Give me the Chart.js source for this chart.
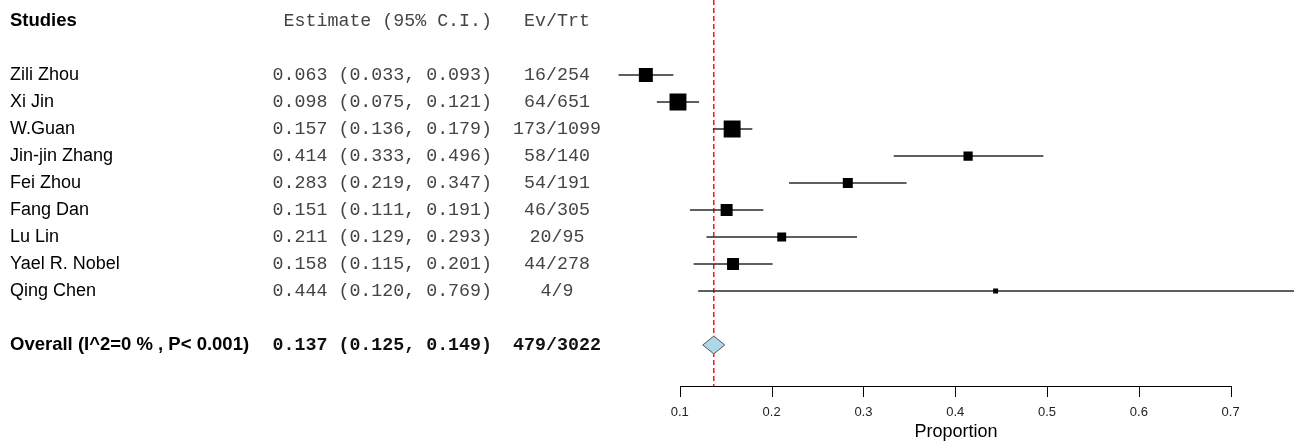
<!DOCTYPE html>
<html>
<head>
<meta charset="utf-8">
<script src="https://cdn.jsdelivr.net/npm/chart.js@4/dist/chart.umd.min.js"></script>
<style>
  html, body { margin: 0; padding: 0; background: white; }
  #wrap { width: 1294px; height: 443px; }
</style>
</head>
<body>
<div id="wrap"><canvas id="myChart" width="1294" height="443"></canvas></div>
<script>
// Study data
const studies = ['Zili Zhou', 'Xi Jin', 'W.Guan', 'Jin-jin Zhang', 'Fei Zhou', 'Fang Dan', 'Lu Lin', 'Yael R. Nobel', 'Qing Chen'];
const estimates = [0.063, 0.098, 0.157, 0.414, 0.283, 0.151, 0.211, 0.158, 0.444];
const lower = [0.033, 0.075, 0.136, 0.333, 0.219, 0.111, 0.129, 0.115, 0.120];
const upper = [0.093, 0.121, 0.179, 0.496, 0.347, 0.191, 0.293, 0.201, 0.769];
const events = [16, 64, 173, 58, 54, 46, 20, 44, 4];
const totals = [254, 651, 1099, 140, 191, 305, 95, 278, 9];
// relative study weights
const weights = [13.3, 16.1, 16.1, 8.8, 9.5, 11.4, 8.5, 11.4, 4.7];

const overallLabel = 'Overall (I^2=0 % , P< 0.001)';
const overallEst = 0.137;
const overallCI = [0.125, 0.149];
const overallEv = 479;
const overallTrt = 3022;

const xTicks = [0.1, 0.2, 0.3, 0.4, 0.5, 0.6, 0.7];

document.addEventListener('DOMContentLoaded', function() {
    const headerRow = -2;
    const overallRow = 10;
    const yMin = -2.78, yMax = 11.52;

    function fmt(v) { return v.toFixed(3); }

    const datasets = [];

    // reference line at the pooled estimate (drawn behind everything)
    datasets.push({
        type: 'line',
        order: 10,
        data: [{ x: overallEst, y: yMin }, { x: overallEst, y: yMax }],
        borderColor: '#ff0000',
        borderWidth: 1.4,
        borderDash: [5, 3],
        pointRadius: 0,
        fill: false
    });

    // confidence interval lines
    studies.forEach((s, i) => {
        datasets.push({
            type: 'line',
            order: 5,
            data: [{ x: lower[i], y: i }, { x: upper[i], y: i }],
            borderColor: '#2a2a2a',
            borderWidth: 1.4,
            pointRadius: 0,
            fill: false
        });
    });

    // study boxes
    datasets.push({
        type: 'scatter',
        order: 1,
        data: studies.map((s, i) => ({ x: estimates[i], y: i })),
        pointStyle: 'rect',
        pointRadius: weights.map(w => (w * 1.05) / Math.SQRT2),
        pointHoverRadius: weights.map(w => (w * 1.05) / Math.SQRT2),
        backgroundColor: '#000000',
        borderColor: '#000000',
        borderWidth: 0
    });

    // pooled diamond
    datasets.push({
        type: 'line',
        order: 0,
        data: [
            { x: overallCI[0], y: overallRow },
            { x: overallEst, y: overallRow - 0.33 },
            { x: overallCI[1], y: overallRow },
            { x: overallEst, y: overallRow + 0.33 },
            { x: overallCI[0], y: overallRow }
        ],
        borderColor: '#555555',
        borderWidth: 1,
        backgroundColor: '#add8e6',
        pointRadius: 0,
        tension: 0,
        fill: 'shape'
    });

    const nameFont = '18px "Liberation Sans", Arial, sans-serif';
    const boldFont = 'bold 18.5px "Liberation Sans", Arial, sans-serif';
    const monoFont = '18.3px "Liberation Mono", "Courier New", monospace';
    const monoBold = 'bold 18.3px "Liberation Mono", "Courier New", monospace';

    const textPlugin = {
        id: 'forestText',
        afterDraw(chart) {
            const ctx = chart.ctx;
            const yS = chart.scales.y;
            const xS = chart.scales.x;
            ctx.save();
            ctx.textBaseline = 'middle';

            // header
            let y = yS.getPixelForValue(headerRow);
            ctx.fillStyle = '#000';
            ctx.font = boldFont;
            ctx.textAlign = 'left';
            ctx.fillText('Studies', 10, y);
            ctx.font = monoFont;
            ctx.fillStyle = '#444';
            ctx.textAlign = 'right';
            ctx.fillText('Estimate (95% C.I.)', 492, y);
            ctx.textAlign = 'center';
            ctx.fillText('Ev/Trt', 557, y);

            // study rows
            studies.forEach((s, i) => {
                y = yS.getPixelForValue(i);
                ctx.fillStyle = '#000';
                ctx.font = nameFont;
                ctx.textAlign = 'left';
                ctx.fillText(s, 10, y);
                ctx.fillStyle = '#444';
                ctx.font = monoFont;
                ctx.textAlign = 'right';
                ctx.fillText(fmt(estimates[i]) + ' (' + fmt(lower[i]) + ', ' + fmt(upper[i]) + ')', 492, y);
                ctx.textAlign = 'center';
                ctx.fillText(events[i] + '/' + totals[i], 557, y);
            });

            // overall row
            y = yS.getPixelForValue(overallRow);
            ctx.fillStyle = '#000';
            ctx.font = boldFont;
            ctx.textAlign = 'left';
            ctx.fillText(overallLabel, 10, y);
            ctx.font = monoBold;
            ctx.fillStyle = '#111';
            ctx.textAlign = 'right';
            ctx.fillText(fmt(overallEst) + ' (' + fmt(overallCI[0]) + ', ' + fmt(overallCI[1]) + ')', 492, y);
            ctx.textAlign = 'center';
            ctx.fillText(overallEv + '/' + overallTrt, 557, y);

            // x axis (only spans the tick range, like R)
            const ay = Math.round(chart.chartArea.bottom);
            const x0 = Math.round(xS.getPixelForValue(xTicks[0])) + 0.5;
            const x1 = Math.round(xS.getPixelForValue(xTicks[xTicks.length - 1])) + 0.5;
            ctx.strokeStyle = '#000';
            ctx.lineWidth = 1;
            ctx.beginPath();
            ctx.moveTo(x0, ay + 0.5);
            ctx.lineTo(x1, ay + 0.5);
            xTicks.forEach(t => {
                const px = Math.round(xS.getPixelForValue(t)) + 0.5;
                ctx.moveTo(px, ay);
                ctx.lineTo(px, ay + 11);
            });
            ctx.stroke();
            ctx.fillStyle = '#222';
            ctx.font = '13px "Liberation Sans", Arial, sans-serif';
            ctx.textAlign = 'center';
            xTicks.forEach(t => {
                ctx.fillText(t.toFixed(1), xS.getPixelForValue(t), ay + 26);
            });
            ctx.fillStyle = '#000';
            ctx.font = '18px "Liberation Sans", Arial, sans-serif';
            ctx.fillText('Proportion', (x0 + x1) / 2, ay + 46);
            ctx.restore();
        }
    };

    const ctx = document.getElementById('myChart').getContext('2d');
    new Chart(ctx, {
        type: 'scatter',
        data: { datasets: datasets },
        options: {
            responsive: false,
            animation: false,
            layout: { autoPadding: false, padding: { left: 618.3, right: 0, top: 0, bottom: 57 } },
            plugins: { legend: { display: false }, tooltip: { enabled: false } },
            scales: {
                x: { type: 'linear', min: 0.033, max: 0.769, display: false },
                y: { type: 'linear', min: yMin, max: yMax, reverse: true, display: false }
            }
        },
        plugins: [textPlugin]
    });
});
</script>
</body>
</html>
